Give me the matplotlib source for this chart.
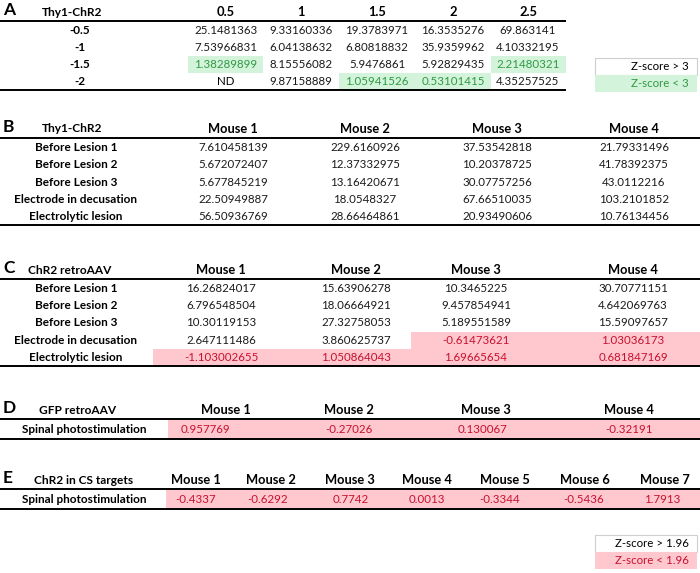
import matplotlib.pyplot as plt
import matplotlib.patches as patches

plt.rcParams['font.family'] = ['Lato', 'DejaVu Sans']

# ---- data ----
a_title = 'Thy1-ChR2'
a_cols = ['0.5', '1', '1.5', '2', '2.5']
a_rows = ['-0.5', '-1', '-1.5', '-2']
a_vals = [
    [25.1481363, 9.33160336, 19.3783971, 16.3535276, 69.863141],
    [7.53966831, 6.04138632, 6.80818832, 35.9359962, 4.10332195],
    [1.38289899, 8.15556082, 5.9476861, 5.92829435, 2.21480321],
    [None, 9.87158889, 1.05941526, 0.53101415, 4.35257525],
]

b_title = 'Thy1-ChR2'
b_cols = ['Mouse 1', 'Mouse 2', 'Mouse 3', 'Mouse 4']
b_rows = ['Before Lesion 1', 'Before Lesion 2', 'Before Lesion 3',
          'Electrode in decusation', 'Electrolytic lesion']
b_vals = [
    [7.610458139, 229.6160926, 37.53542818, 21.79331496],
    [5.672072407, 12.37332975, 10.20378725, 41.78392375],
    [5.677845219, 13.16420671, 30.07757256, 43.0112216],
    [22.50949887, 18.0548327, 67.66510035, 103.2101852],
    [56.50936769, 28.66464861, 20.93490606, 10.76134456],
]

c_title = 'ChR2 retroAAV'
c_cols = ['Mouse 1', 'Mouse 2', 'Mouse 3', 'Mouse 4']
c_rows = b_rows
c_vals = [
    [16.26824017, 15.63906278, 10.3465225, 30.70771151],
    [6.796548504, 18.06664921, 9.457854941, 4.642069763],
    [10.30119153, 27.32758053, 5.189551589, 15.59097657],
    [2.647111486, 3.860625737, -0.61473621, 1.03036173],
    [-1.103002655, 1.050864043, 1.69665654, 0.681847169],
]

d_title = 'GFP retroAAV'
d_cols = ['Mouse 1', 'Mouse 2', 'Mouse 3', 'Mouse 4']
d_rows = ['Spinal photostimulation']
d_vals = [[0.957769, -0.27026, 0.130067, -0.32191]]

e_title = 'ChR2 in CS targets'
e_cols = ['Mouse 1', 'Mouse 2', 'Mouse 3', 'Mouse 4', 'Mouse 5', 'Mouse 6', 'Mouse 7']
e_rows = ['Spinal photostimulation']
e_vals = [[-0.4337, -0.6292, 0.7742, 0.0013, -0.3344, -0.5436, 1.7913]]

# ---- styles ----
GREEN_FILL, GREEN_TXT = '#d3f3da', '#2f9a44'
PINK_FILL, PINK_TXT = '#ffc7ce', '#c8102e'
FS = 8.3
HFS = 9.3

fig = plt.figure(figsize=(7, 5.73), dpi=100)
ax = fig.add_axes([0, 0, 1, 1])
ax.set_xlim(0, 700)
ax.set_ylim(573, 0)
ax.axis('off')


def panel(letter, title, cols, rows, vals, top, col_x, edges, title_x, label_x,
          rowh, thresh, fill, txtc, line_end=700, val_x=None):
    if val_x is None:
        val_x = col_x
    ax.text(3, top - 2, letter, fontsize=12.5, fontweight='bold', ha='left', va='center')
    ax.text(title_x, top, title, fontsize=FS + 0.3, fontweight='bold', ha='center', va='center')
    for x, c in zip(col_x, cols):
        ax.text(x, top, c, fontsize=HFS, fontweight='bold', ha='center', va='center')
    line_y = top + 9
    ax.plot([0, line_end], [line_y, line_y], color='black', lw=1.4, solid_capstyle='butt')
    for i, (r, row) in enumerate(zip(rows, vals)):
        y = line_y + rowh * (i + 0.5) + 1
        ax.text(label_x, y, r, fontsize=FS + 0.2, fontweight='bold', ha='center', va='center')
        for j, v in enumerate(row):
            if v is None:
                ax.text(val_x[j], y, 'ND', fontsize=FS, ha='center', va='center')
                continue
            hit = v < thresh
            if hit:
                ax.add_patch(patches.Rectangle((edges[j], y - rowh / 2), edges[j + 1] - edges[j],
                                               rowh, facecolor=fill, edgecolor='none', zorder=0))
            ax.text(val_x[j], y, str(v), fontsize=FS, ha='center', va='center',
                    color=txtc if hit else '#1a1a1a')
    bot = line_y + rowh * len(rows) + 1
    ax.plot([0, line_end], [bot, bot], color='black', lw=1.4, solid_capstyle='butt')


def legend(top, labels, fill, txtc):
    h = 17
    ax.add_patch(patches.Rectangle((595, top), 102, h, facecolor='white',
                                   edgecolor='#cfcfcf', lw=0.8))
    ax.add_patch(patches.Rectangle((595, top + h), 102, h, facecolor=fill,
                                   edgecolor='none'))
    ax.text(689, top + h / 2, labels[0], fontsize=FS, ha='right', va='center')
    ax.text(689, top + h * 1.5, labels[1], fontsize=FS, ha='right', va='center', color=txtc)


panel('A', a_title, a_cols, a_rows, a_vals, 12,
      [226, 301, 377, 453, 528], [188, 263, 339, 415, 491, 566], 72, 80, 17,
      3, GREEN_FILL, GREEN_TXT, line_end=566)
legend(58, ['Z-score > 3', 'Z-score < 3'], GREEN_FILL, GREEN_TXT)

panel('B', b_title, b_cols, b_rows, b_vals, 129,
      [233, 365, 497, 634], [165, 300, 430, 565, 700], 72, 76, 17.2,
      -99, PINK_FILL, PINK_TXT)

panel('C', c_title, c_cols, c_rows, c_vals, 270,
      [221, 356, 476, 633], [153, 289, 411, 545, 700], 70, 76, 17.2,
      1.96, PINK_FILL, PINK_TXT)

panel('D', d_title, d_cols, d_rows, d_vals, 410,
      [226, 349, 486, 629], [168, 290, 415, 560, 700], 78, 84, 19,
      1.96, PINK_FILL, PINK_TXT, val_x=[205, 349, 482, 629])

panel('E', e_title, e_cols, e_rows, e_vals, 480,
      [196, 271, 350, 427, 505, 585, 665], [166, 236, 312, 392, 470, 545, 625, 700], 84, 84, 19,
      1.96, PINK_FILL, PINK_TXT, val_x=[196, 268, 351, 427, 500, 584, 662])

legend(535, ['Z-score > 1.96', 'Z-score < 1.96'], PINK_FILL, PINK_TXT)

fig.savefig('out.png', dpi=100)
